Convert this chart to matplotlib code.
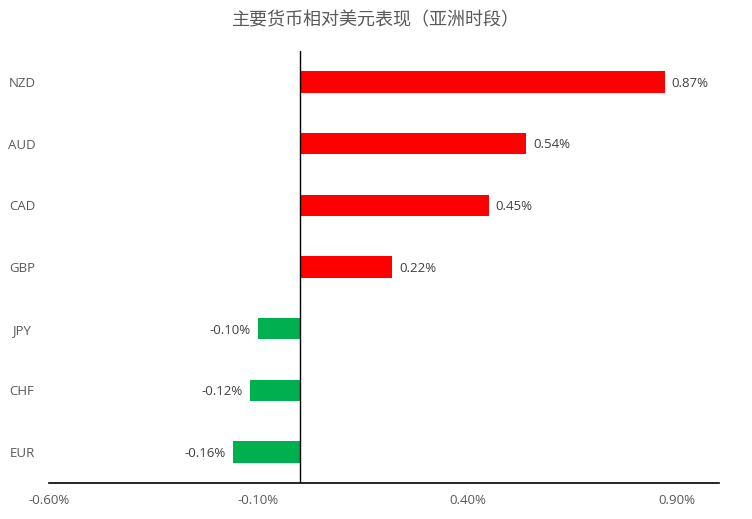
import matplotlib
matplotlib.use("Agg")
import matplotlib.pyplot as plt

plt.rcParams['font.family'] = ['Open Sans', 'DejaVu Sans']

categories = ["EUR", "CHF", "JPY", "GBP", "CAD", "AUD", "NZD"]
values = [-0.16, -0.12, -0.10, 0.22, 0.45, 0.54, 0.87]
xticks = [-0.60, -0.10, 0.40, 0.90]
title = "主要货币相对美元表现（亚洲时段）"

fig = plt.figure(figsize=(7.52, 5.19), dpi=100)
ax = fig.add_axes([49/752, 1 - 483/519, (719 - 49)/752, (483 - 51)/519])

colors = ["#FF0000" if v > 0 else "#00B050" for v in values]
ypos = list(range(len(categories)))
ax.barh(ypos, values, height=0.345, color=colors)

ax.set_xlim(-0.60, 1.00)
ax.set_ylim(-0.5, len(categories) - 0.5)
ax.axvline(0, color="black", linewidth=1.0)

for s in ["top", "right", "left"]:
    ax.spines[s].set_visible(False)
ax.spines["bottom"].set_linewidth(1.2)
ax.spines["bottom"].set_color("black")

ax.set_xticks(xticks)
ax.set_xticklabels([f"{t:.2f}%" for t in xticks], fontsize=9.5, color="#595959")
ax.tick_params(axis="x", length=0, pad=8)

ax.set_yticks(ypos)
ax.set_yticklabels(categories, fontsize=9.5, color="#595959")
ax.tick_params(axis="y", length=0, pad=19.5)
for lbl in ax.get_yticklabels():
    lbl.set_horizontalalignment("center")

for y, v in zip(ypos, values):
    txt = f"{v:.2f}%"
    if v >= 0:
        ax.annotate(txt, (v, y), xytext=(5, -1), textcoords="offset points",
                    ha="left", va="center", fontsize=9.5, color="#404040")
    else:
        ax.annotate(txt, (v, y), xytext=(-5.5, -1), textcoords="offset points",
                    ha="right", va="center", fontsize=9.5, color="#404040")

fig.text(0.5, 1 - 20/519, title, ha="center", va="center", fontsize=13,
         color="#595959", family=["Noto Sans CJK SC", "DejaVu Sans"])

fig.savefig("out.png", dpi=100, facecolor="white")
